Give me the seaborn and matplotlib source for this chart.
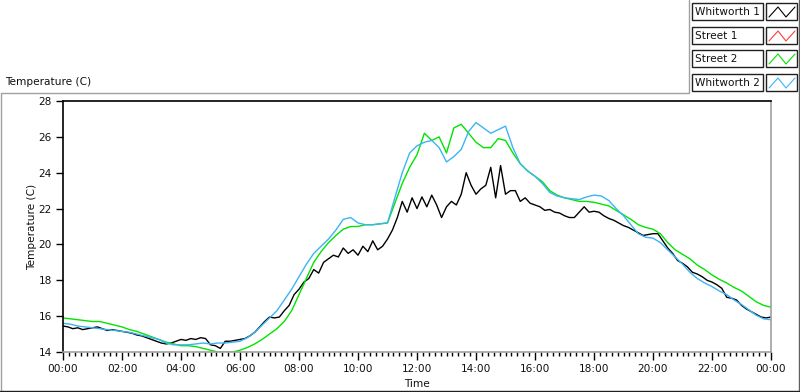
import numpy as np
import pandas as pd
import matplotlib
matplotlib.use("Agg")
import matplotlib.pyplot as plt
from matplotlib.lines import Line2D
from matplotlib.patches import Rectangle
from matplotlib.ticker import FixedLocator, MultipleLocator
import seaborn as sns

# ---------------- data ----------------
series_names = ["Whitworth 1", "Street 1", "Street 2", "Whitworth 2"]
series_colors = ["#000000", "#ff3c3c", "#00e400", "#3cb4f5"]

whitworth1_step_min = 10
whitworth1 = [
    15.45, 15.4, 15.3, 15.35, 15.25, 15.3,
    15.35, 15.4, 15.3, 15.2, 15.25, 15.2,
    15.15, 15.1, 15.05, 14.95, 14.9, 14.8,
    14.7, 14.6, 14.5, 14.45, 14.5, 14.6,
    14.7, 14.65, 14.75, 14.7, 14.8, 14.75,
    14.4, 14.35, 14.2, 14.6, 14.6, 14.65,
    14.7, 14.75, 14.9, 15.1, 15.4, 15.7,
    15.95, 15.9, 15.95, 16.3, 16.6, 17.2,
    17.5, 17.9, 18.1, 18.6, 18.4, 19.0,
    19.2, 19.4, 19.3, 19.8, 19.5, 19.7,
    19.4, 19.9, 19.6, 20.2, 19.7, 19.9,
    20.3, 20.8, 21.5, 22.4, 21.8, 22.6,
    22.0, 22.65, 22.1, 22.75, 22.2, 21.5,
    22.1, 22.4, 22.2, 22.8, 24.0, 23.3,
    22.8, 23.1, 23.3, 24.3, 22.6, 24.4,
    22.8, 23.0, 23.0, 22.4, 22.6, 22.3,
    22.2, 22.1, 21.9, 21.95, 21.8, 21.75,
    21.6, 21.5, 21.5, 21.8, 22.1, 21.8,
    21.85, 21.8, 21.6, 21.45, 21.35, 21.2,
    21.05, 20.95, 20.8, 20.65, 20.5, 20.55,
    20.6, 20.6, 20.2, 19.8, 19.5, 19.1,
    18.95, 18.75, 18.45, 18.35, 18.2, 18.0,
    17.9, 17.75, 17.55, 17.05, 17.0, 16.9,
    16.6, 16.4, 16.25, 16.1, 15.95, 15.9,
    15.95,
]

street1_step_min = 15
street1 = []  # no visible samples in the chart

street2_step_min = 15
street2 = [
    15.9, 15.85, 15.8, 15.75,
    15.7, 15.7, 15.6, 15.5,
    15.4, 15.25, 15.15, 15.0,
    14.85, 14.7, 14.55, 14.45,
    14.35, 14.35, 14.3, 14.2,
    14.1, 14.0, 14.0, 14.0,
    14.1, 14.25, 14.45, 14.7,
    15.0, 15.3, 15.7, 16.3,
    17.2, 18.1, 19.0, 19.6,
    20.1, 20.5, 20.85, 21.0,
    21.0, 21.1, 21.1, 21.15,
    21.2, 22.3, 23.4, 24.3,
    25.0, 26.2, 25.8, 26.0,
    25.1, 26.5, 26.7, 26.2,
    25.7, 25.4, 25.4, 25.9,
    25.8, 25.1, 24.5, 24.1,
    23.8, 23.5, 23.0, 22.75,
    22.6, 22.5, 22.4, 22.4,
    22.35, 22.25, 22.15, 21.9,
    21.65, 21.4, 21.1, 20.95,
    20.85, 20.6, 20.1, 19.7,
    19.45, 19.2, 18.85, 18.6,
    18.3, 18.05, 17.85, 17.6,
    17.4, 17.1, 16.8, 16.6,
    16.5,
]

whitworth2_step_min = 15
whitworth2 = [
    15.6, 15.55, 15.45, 15.4,
    15.35, 15.3, 15.25, 15.2,
    15.15, 15.1, 15.0, 14.9,
    14.8, 14.7, 14.5, 14.4,
    14.4, 14.4, 14.45, 14.5,
    14.45, 14.5, 14.5, 14.55,
    14.6, 14.8, 15.1, 15.5,
    15.9, 16.3, 16.9, 17.5,
    18.2, 18.9, 19.5, 19.9,
    20.3, 20.8, 21.4, 21.5,
    21.2, 21.1, 21.1, 21.15,
    21.2, 22.6, 24.0, 25.1,
    25.5, 25.7, 25.8, 25.4,
    24.6, 24.9, 25.3, 26.3,
    26.8, 26.5, 26.2, 26.4,
    26.6, 25.4, 24.5, 24.1,
    23.8, 23.4, 22.9, 22.7,
    22.6, 22.55, 22.5, 22.65,
    22.75, 22.7, 22.45, 22.0,
    21.6, 21.1, 20.6, 20.4,
    20.35, 20.1, 19.7, 19.3,
    18.9, 18.45, 18.1, 17.85,
    17.65, 17.4, 17.2, 16.9,
    16.65, 16.35, 16.05, 15.85,
    15.8,
]

x_tick_hours = [0, 2, 4, 6, 8, 10, 12, 14, 16, 18, 20, 22, 24]
x_tick_labels = ["00:00", "02:00", "04:00", "06:00", "08:00", "10:00", "12:00",
                 "14:00", "16:00", "18:00", "20:00", "22:00", "00:00"]
y_ticks = [14, 16, 18, 20, 22, 24, 26, 28]

# ---------------- figure ----------------
sns.set_style("white")
plt.rcParams["font.family"] = ["DejaVu Sans"]
FS = 7.6

W, H = 800, 392
fig = plt.figure(figsize=(W / 100, H / 100), dpi=100)


def fx(px):
    return px / W


def fy(py):
    return 1 - py / H


L, R, T, B = 63, 771, 101, 352
ax = fig.add_axes([fx(L), fy(B), fx(R) - fx(L), fy(T) - fy(B)])

frames = []
for name, vals, step in [("Whitworth 1", whitworth1, whitworth1_step_min),
                         ("Street 1", street1, street1_step_min),
                         ("Street 2", street2, street2_step_min),
                         ("Whitworth 2", whitworth2, whitworth2_step_min)]:
    hrs = np.arange(len(vals)) * step / 60.0
    frames.append(pd.DataFrame({"hour": hrs, "temp": vals, "series": name}))
df = pd.concat(frames, ignore_index=True)

for name, color in zip(series_names, series_colors):
    sub = df[df["series"] == name]
    if len(sub) == 0:
        continue
    sns.lineplot(data=sub, x="hour", y="temp", color=color, linewidth=1.0,
                 estimator=None, sort=False, ax=ax, legend=False)

ax.set_xlim(0, 24)
ax.set_ylim(14, 28)
ax.xaxis.set_major_locator(FixedLocator(x_tick_hours))
ax.set_xticklabels(x_tick_labels)
ax.xaxis.set_minor_locator(MultipleLocator(0.2))
ax.set_yticks(y_ticks)
ax.set_yticklabels([str(v) for v in y_ticks])

ax.tick_params(axis="x", which="major", direction="out", length=6, width=1,
               color="black", labelsize=FS, pad=3, labelcolor="#101010")
ax.tick_params(axis="x", which="minor", direction="out", length=3, width=1,
               color="black")
ax.tick_params(axis="y", which="major", direction="out", length=5, width=1,
               color="black", labelsize=FS, pad=3, labelcolor="#101010")
ax.tick_params(bottom=True, left=True, which="both")
ax.tick_params(axis="y", which="minor", left=False)

for side in ["left", "top"]:
    ax.spines[side].set_color("black")
    ax.spines[side].set_linewidth(1.2)
for side in ["right", "bottom"]:
    ax.spines[side].set_color("#a0a0a0")
    ax.spines[side].set_linewidth(1.2)

ax.set_xlabel("Time", fontsize=FS, color="#101010")
ax.set_ylabel("Temperature (C)", fontsize=FS, color="#101010")
ax.xaxis.set_label_coords(0.5, -(384 - B) / (B - T))
ax.xaxis.label.set_va("center")
ax.yaxis.set_label_coords(-(L - 32) / (R - L), 0.5)
ax.yaxis.label.set_va("center")

# outer panel frame
def fline(x0, y0, x1, y1, color, lw=1.0):
    fig.add_artist(Line2D([fx(x0), fx(x1)], [fy(y0), fy(y1)], color=color,
                          linewidth=lw, transform=fig.transFigure))

fline(0.5, 93, 689, 93, "#a0a0a0")
fline(0.5, 93, 0.5, 391, "#a0a0a0")
fline(689, 0, 689, 93, "#a0a0a0")
fline(798.5, 0, 798.5, 391, "#606060")
fline(0, 390.5, 799, 390.5, "#202020")

fig.text(fx(5), fy(82), "Temperature (C)", fontsize=FS, color="#101010",
         ha="left", va="center")

# legend
row_tops = [3, 27, 50, 74]
row_h = 17
for name, color, top in zip(series_names, series_colors, row_tops):
    fig.add_artist(Rectangle((fx(692), fy(top + row_h)), fx(763) - fx(692),
                             fy(top) - fy(top + row_h), facecolor="white",
                             edgecolor="#202020", linewidth=1.0,
                             transform=fig.transFigure))
    fig.text(fx(695), fy(top + row_h / 2 + 0.5), name, fontsize=FS,
             color="#101010", ha="left", va="center")
    fig.add_artist(Rectangle((fx(766), fy(top + row_h)), fx(797) - fx(766),
                             fy(top) - fy(top + row_h), facecolor="white",
                             edgecolor="#202020", linewidth=1.0,
                             transform=fig.transFigure))
    gx = [769, 778, 786, 795]
    gy = [top + 14, top + 4, top + 14, top + 4]
    fig.add_artist(Line2D([fx(v) for v in gx], [fy(v) for v in gy],
                          color=color, linewidth=0.8,
                          transform=fig.transFigure))

fig.savefig("out.png", dpi=100)
